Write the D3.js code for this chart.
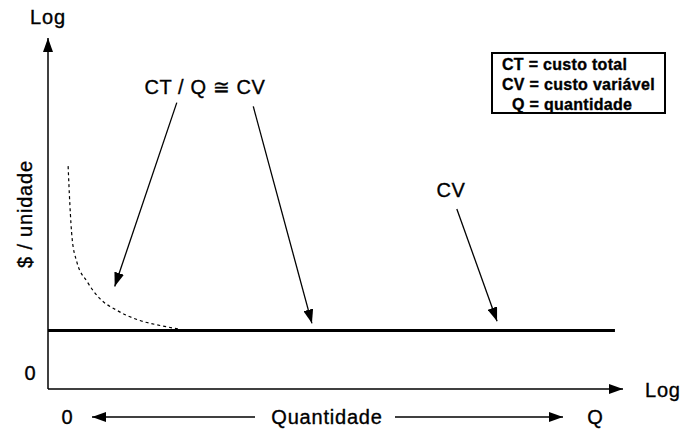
<!DOCTYPE html>
<html>
<head>
<meta charset="utf-8">
<script src="https://cdn.jsdelivr.net/npm/d3@7"></script>
<style>
	body { margin: 0; background: #fff; }
	svg { display: block; }
	text { font-family: "Liberation Sans", Arial, sans-serif; fill: #000; stroke: #000; stroke-width: 0.35px; }
</style>
</head>
<body>
<svg width="683" height="431"></svg>
<script>
// conceptual chart, both axes log, values in arbitrary units (0..100)
const cvLevel = 16.7
const cvEnd = 98.6

// CT/Q curve (dashed)
const curveX = [3.5, 3.8, 4.2, 5.0, 6.8, 9.0, 12.0, 16.0, 19.5, 23.1]
const curveY = [63.5, 52.7, 42.8, 36.3, 30.6, 25.8, 22.4, 19.5, 18.1, 17.0]

// annotations: label text, label position, arrow from -> to
const annLabels = ['CT / Q \u2245 CV', 'CV']
const annLabelX = [27.3, 70.1]
const annLabelY = [84.1, 54.6]
const arrowFromX = [22.4, 35.7, 71.1]
const arrowFromY = [81.6, 80.5, 51.3]
const arrowToX = [11.6, 45.9, 78.1]
const arrowToY = [29.2, 18.7, 19.3]

const legendLines = ['CT = custo total', 'CV = custo vari\u00e1vel', 'Q = quantidade']

const svg = d3.select('svg')

let xScale = d3.scaleLinear().domain([0, 100]).range([48, 623])
let yScale = d3.scaleLinear().domain([0, 100]).range([389, 38])

let defs = svg.append('defs')
defs.append('marker')
	.attr('id', 'head')
	.attr('viewBox', '0 0 14 10')
	.attr('refX', 14)
	.attr('refY', 5)
	.attr('markerWidth', 14)
	.attr('markerHeight', 10)
	.attr('markerUnits', 'userSpaceOnUse')
	.attr('orient', 'auto')
	.append('path')
	.attr('d', 'M0,0 L14,5 L0,10 Z')
	.attr('fill', '#000')

// axes
svg.append('line')
	.attr('x1', xScale(0)).attr('y1', yScale(0))
	.attr('x2', xScale(0)).attr('y2', yScale(100))
	.attr('stroke', '#000').attr('stroke-width', 1.5)
	.attr('marker-end', 'url(#head)')
svg.append('line')
	.attr('x1', xScale(0)).attr('y1', yScale(0))
	.attr('x2', xScale(100)).attr('y2', yScale(0))
	.attr('stroke', '#000').attr('stroke-width', 1.5)
	.attr('marker-end', 'url(#head)')

svg.append('text').attr('x', 48).attr('y', 24)
	.attr('text-anchor', 'middle').attr('font-size', 20).attr('letter-spacing', 0.8)
	.text('Log')
svg.append('text').attr('x', 645).attr('y', 397)
	.attr('font-size', 20).attr('letter-spacing', 0.8)
	.text('Log')
svg.append('text').attr('x', 30).attr('y', 380)
	.attr('text-anchor', 'middle').attr('font-size', 20)
	.text('0')
svg.append('text')
	.attr('transform', 'translate(32, 214) rotate(-90)')
	.attr('text-anchor', 'middle').attr('font-size', 20).attr('letter-spacing', 0.8)
	.text('$ / unidade')

// bottom: 0 <-- Quantidade --> Q
svg.append('text').attr('x', 67).attr('y', 424)
	.attr('text-anchor', 'middle').attr('font-size', 20)
	.text('0')
svg.append('text').attr('x', 327).attr('y', 424)
	.attr('text-anchor', 'middle').attr('font-size', 20).attr('letter-spacing', 0.8)
	.text('Quantidade')
svg.append('text').attr('x', 595).attr('y', 424)
	.attr('text-anchor', 'middle').attr('font-size', 20)
	.text('Q')
svg.append('line')
	.attr('x1', 255).attr('y1', 417).attr('x2', 92).attr('y2', 417)
	.attr('stroke', '#000').attr('stroke-width', 1.5)
	.attr('marker-end', 'url(#head)')
svg.append('line')
	.attr('x1', 395).attr('y1', 417).attr('x2', 563).attr('y2', 417)
	.attr('stroke', '#000').attr('stroke-width', 1.5)
	.attr('marker-end', 'url(#head)')

// CV line
svg.append('line')
	.attr('x1', xScale(0)).attr('y1', yScale(cvLevel))
	.attr('x2', xScale(cvEnd)).attr('y2', yScale(cvLevel))
	.attr('stroke', '#000').attr('stroke-width', 3)

// CT/Q dashed curve
let curve = d3.line()
	.x(d => xScale(d[0]))
	.y(d => yScale(d[1]))
	.curve(d3.curveMonotoneX)
svg.append('path')
	.datum(curveX.map((x, i) => [x, curveY[i]]))
	.attr('d', curve)
	.attr('fill', 'none')
	.attr('stroke', '#000')
	.attr('stroke-width', 1.2)
	.attr('stroke-dasharray', '3,3')

// annotation arrows
svg.append('g').selectAll('line')
	.data(arrowFromX)
	.join('line')
	.attr('x1', (d, i) => xScale(d))
	.attr('y1', (d, i) => yScale(arrowFromY[i]))
	.attr('x2', (d, i) => xScale(arrowToX[i]))
	.attr('y2', (d, i) => yScale(arrowToY[i]))
	.attr('stroke', '#000')
	.attr('stroke-width', 1.3)
	.attr('marker-end', 'url(#head)')

svg.append('g').selectAll('text')
	.data(annLabels)
	.join('text')
	.attr('x', (d, i) => xScale(annLabelX[i]))
	.attr('y', (d, i) => yScale(annLabelY[i]))
	.attr('text-anchor', 'middle')
	.attr('font-size', 20)
	.attr('letter-spacing', 0.6)
	.text(d => d)

// legend box
svg.append('rect')
	.attr('x', 492).attr('y', 53)
	.attr('width', 173).attr('height', 60)
	.attr('fill', 'none').attr('stroke', '#000').attr('stroke-width', 2)
svg.append('g').selectAll('text')
	.data(legendLines)
	.join('text')
	.attr('x', (d, i) => i == 2 ? 512 : 502)
	.attr('y', (d, i) => 70 + i * 20)
	.attr('font-size', 16)
	.attr('font-weight', 'bold')
	.attr('letter-spacing', 0.3)
	.attr('stroke-width', 0)
	.text(d => d)
</script>
</body>
</html>
